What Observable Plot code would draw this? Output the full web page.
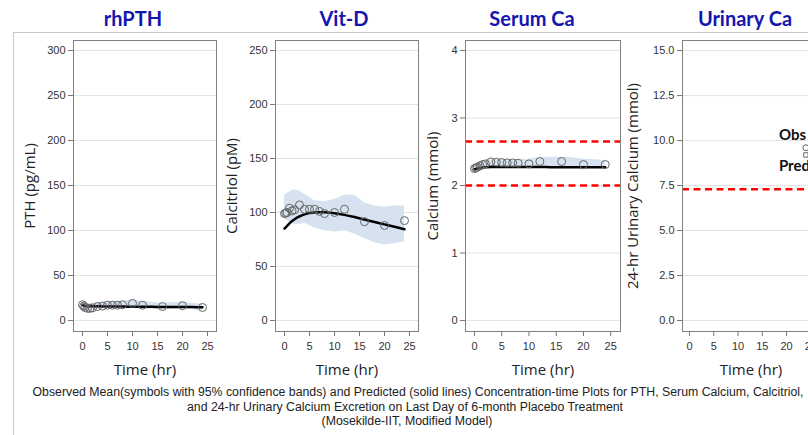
<!DOCTYPE html>
<html><head><meta charset="utf-8">
<script src="https://cdn.jsdelivr.net/npm/d3@7"></script>
<script src="https://cdn.jsdelivr.net/npm/@observablehq/plot@0.6"></script>
<style>
html,body{margin:0;padding:0;background:#fff;}
#root{position:relative;width:808px;height:435px;overflow:hidden;background:#fff;}
.outer{position:absolute;left:13px;top:32px;width:900px;height:500px;border-left:1px solid #c8c8c8;border-top:1px solid #c8c8c8;}
.title{position:absolute;top:5px;font:bold 20px Lato, sans-serif;color:#1515b0;transform:translateX(-50%);white-space:nowrap;line-height:26px;}
.panel{position:absolute;top:32px;}
.panel svg{max-width:none !important;}
.cap{position:absolute;transform:translateX(-50%);white-space:nowrap;font:12.3px "Liberation Sans Narrow","Liberation Sans",sans-serif;color:#222;line-height:14px;}
g[aria-label="x-axis label"] text, g[aria-label="y-axis label"] text {font: 15px "Open Sans", sans-serif; fill:#222;}
</style></head>
<body>
<div id="root">
  <div class="outer"></div>
</div>
<script>
// ---------- data ----------
const titles = ["rhPTH", "Vit-D", "Serum Ca", "Urinary Ca"];
const yLabels = ["PTH (pg/mL)", "Calcitriol (pM)", "Calcium (mmol)", "24-hr Urinary Calcium (mmol)"];
const xLabel = "Time (hr)";
const xTicks = [0, 5, 10, 15, 20, 25];

const obsTime  = [0, 0.25, 0.5, 1, 1.5, 2, 3, 4, 5, 6, 7, 8, 10, 12, 16, 20, 24];
const predTime = [0, 0.5, 1, 1.5, 2, 3, 4, 5, 6, 7, 8, 10, 12, 14, 16, 18, 20, 22, 24];
const bandTime = [0, 1, 2, 3, 4, 5, 6, 8, 10, 12, 14, 16, 18, 20, 22, 24];

// PTH (pg/mL)
const pthTicks = [0, 50, 100, 150, 200, 250, 300];
const pthObs  = [17.5, 16, 14.5, 13.5, 13.5, 14, 15.5, 16, 17, 17, 17, 17.5, 19, 17, 15.5, 16.5, 14.5];
const pthPred = [17.5, 16.3, 16, 15.9, 15.8, 15.8, 15.7, 15.7, 15.6, 15.6, 15.5, 15.4, 15.3, 15.2, 15.1, 15.1, 15, 14.9, 14.8];
const pthHi   = [20, 19, 19, 20, 20, 21, 21, 21, 23, 21, 20, 19, 20, 20, 19, 18];
const pthLo   = [13, 11.5, 11.5, 12, 13, 13, 13, 13, 14, 13, 12.5, 12, 12.5, 13, 12, 11];

// Calcitriol (pM)
const vitTicks = [0, 50, 100, 150, 200, 250];
const vitObs  = [99, 99.5, 100, 104, 101.5, 102.5, 107, 103, 103, 103, 101, 99, 100, 103, 91.5, 88, 92.5];
const vitPred = [85, 87.5, 90, 92, 93.8, 96.5, 98.3, 99.5, 100.1, 100.3, 100.2, 99.3, 97.8, 95.8, 93.5, 91.2, 89, 86.8, 84.5];
const vitHi   = [116, 119, 121, 120, 117, 114, 111, 110, 112, 116, 116, 109, 106, 105, 106, 106];
const vitLo   = [94, 91, 89, 89, 90, 88, 86, 83, 82, 83, 80, 76, 72, 70, 71, 73];

// Serum calcium (mmol)
const caTicks = [0, 1, 2, 3, 4];
const caObs  = [2.25, 2.26, 2.27, 2.29, 2.31, 2.32, 2.35, 2.345, 2.34, 2.335, 2.335, 2.33, 2.32, 2.355, 2.355, 2.31, 2.31];
const caPred = [2.24, 2.25, 2.26, 2.265, 2.27, 2.275, 2.275, 2.275, 2.275, 2.275, 2.275, 2.275, 2.275, 2.27, 2.27, 2.27, 2.27, 2.27, 2.27];
const caHi   = [2.30, 2.35, 2.37, 2.39, 2.39, 2.39, 2.38, 2.38, 2.39, 2.41, 2.42, 2.42, 2.41, 2.39, 2.38, 2.37];
const caLo   = [2.22, 2.24, 2.26, 2.27, 2.28, 2.28, 2.28, 2.28, 2.28, 2.28, 2.28, 2.28, 2.28, 2.27, 2.27, 2.26];
const caRefs = [2.65, 2.0];

// 24-hr urinary calcium (mmol)
const urTicks = [0, 2.5, 5, 7.5, 10, 12.5, 15];
const urTime = [24];
const urObs  = [9.6];
const urPred = [9.2];
const urRefs = [7.3];
const urLabels = ["Obs", "Pred"];
const urLabelY = [10.3, 8.6];

const captionLines = [
  "Observed Mean(symbols with 95% confidence bands) and Predicted (solid lines) Concentration-time Plots for PTH, Serum Calcium, Calcitriol,",
  "and 24-hr Urinary Calcium Excretion on Last Day of 6-month Placebo Treatment",
  "(Mosekilde-IIT, Modified Model)"
];

// ---------- layout ----------
const root = document.getElementById("root");
const titleX = [133, 344, 532, 745];
titles.forEach((t, i) => {
  const d = document.createElement("div");
  d.className = "title"; d.textContent = t; d.style.left = titleX[i] + "px";
  root.appendChild(d);
});
const capX = [418, 405, 407], capTop = [385, 400, 414];
captionLines.forEach((t, i) => {
  const d = document.createElement("div");
  d.className = "cap"; d.textContent = t; d.style.left = capX[i] + "px"; d.style.top = capTop[i] + "px";
  root.appendChild(d);
});

const zip = (ts, vs) => ts.map((t, i) => ({t, v: vs[i]}));
const zipBand = (ts, lo, hi) => ts.map((t, i) => ({t, lo: lo[i], hi: hi[i]}));

function panel(o) {
  const marks = [
    Plot.gridY(o.yTicks, {stroke: "#e4e4e4", strokeOpacity: 1}),
  ];
  if (o.band) marks.push(Plot.areaY(o.band, {x: "t", y1: "lo", y2: "hi", fill: "#d6e2f0", curve: "linear"}));
  if (o.refs) marks.push(Plot.ruleY(o.refs, {stroke: "#ff0000", strokeWidth: 2.5, strokeDasharray: "7,4.5"}));
  if (o.pred) marks.push(Plot.line(o.pred, {x: "t", y: "v", stroke: "black", strokeWidth: 2.5, curve: "catmull-rom"}));
  if (o.obs) marks.push(Plot.dot(o.obs, {x: "t", y: "v", r: 4, stroke: "#666", fill: "none", strokeWidth: 1}));
  if (o.extra) marks.push(...o.extra);
  marks.push(
    Plot.axisX({ticks: xTicks, tickSize: 5, tickPadding: 6, stroke: "#777", label: xLabel, labelAnchor: "center", labelOffset: 43, labelArrow: "none"}),
    Plot.axisY({ticks: o.yTicks, tickSize: 5, tickPadding: 3, stroke: "#777", tickFormat: o.yFormat, label: o.yLabel, labelAnchor: "center", labelOffset: o.labelOffset, labelArrow: "none"}),
    Plot.frame({stroke: "#808080"})
  );
  const svg = Plot.plot({
    width: o.width, height: 350,
    marginLeft: 60, marginRight: 5, marginTop: 8, marginBottom: 51,
    x: {domain: o.xDomain},
    y: {domain: o.yDomain},
    style: {background: "transparent", fontFamily: "'Liberation Sans', sans-serif", fontSize: "11px", color: "#333", overflow: "visible", maxWidth: "none"},
    marks
  });
  const wrap = document.createElement("div");
  wrap.className = "panel"; wrap.style.left = o.left + "px"; wrap.style.width = o.width + "px";
  wrap.appendChild(svg);
  root.appendChild(wrap);
}

panel({left: 13, width: 208, xDomain: [-1.8, 26.8], yDomain: [-12.2, 311.1], yTicks: pthTicks, yLabel: yLabels[0], labelOffset: 49,
  band: zipBand(bandTime, pthLo, pthHi), pred: zip(predTime, pthPred), obs: zip(obsTime, pthObs)});
panel({left: 215, width: 208, xDomain: [-1.8, 26.8], yDomain: [-10.2, 259.3], yTicks: vitTicks, yLabel: yLabels[1], labelOffset: 49,
  band: zipBand(bandTime, vitLo, vitHi), pred: zip(predTime, vitPred), obs: zip(obsTime, vitObs)});
panel({left: 405, width: 220, xDomain: [-1.65, 26.8], yDomain: [-0.163, 4.148], yTicks: caTicks, yFormat: d3.format("d"), yLabel: yLabels[2], labelOffset: 38,
  band: zipBand(bandTime, caLo, caHi), refs: caRefs, pred: zip(predTime, caPred), obs: zip(obsTime, caObs)});
panel({left: 622, width: 202, xDomain: [-1.45, 26.8], yDomain: [-0.61, 15.56], yTicks: urTicks, yFormat: d3.format(".1f"), yLabel: yLabels[3], labelOffset: 55,
  refs: urRefs,
  extra: [
    Plot.dot(zip(urTime, urObs), {x: "t", y: "v", r: 3, stroke: "#666", fill: "none", strokeWidth: 1}),
    Plot.dot(zip(urTime, urPred), {x: "t", y: "v", r: 2.5, symbol: "square", stroke: "#666", fill: "none", strokeWidth: 1}),
    Plot.text(urLabels.map((s, i) => ({s, t: 24, v: urLabelY[i]})), {x: "t", y: "v", text: "s", textAnchor: "start", dx: -27, fontWeight: "bold", fontSize: 15, fontFamily: "Lato, sans-serif", fill: "#111"})
  ]});
</script>
</body></html>
